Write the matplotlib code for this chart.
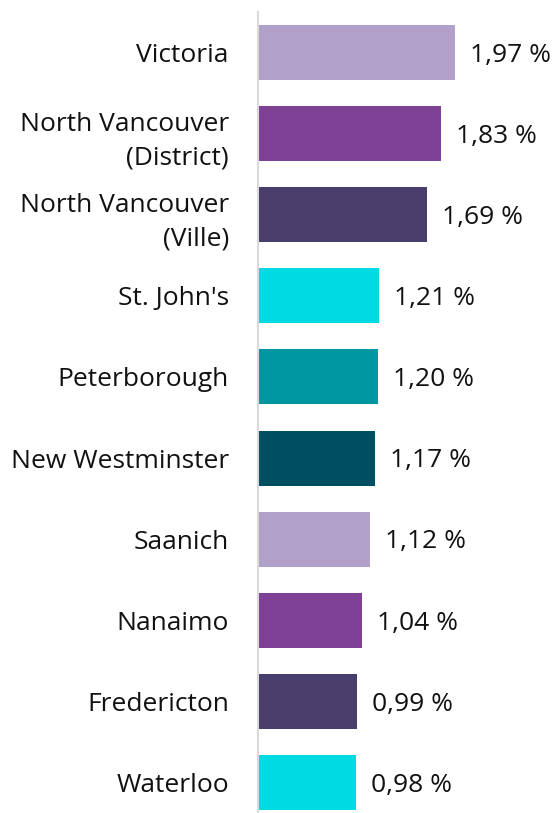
import matplotlib.pyplot as plt

plt.rcParams['font.family'] = ['Open Sans', 'DejaVu Sans']

cities = ["Victoria", "North Vancouver\n(District)", "North Vancouver\n(Ville)",
          "St. John's", "Peterborough", "New Westminster", "Saanich",
          "Nanaimo", "Fredericton", "Waterloo"]
values = [1.97, 1.83, 1.69, 1.21, 1.20, 1.17, 1.12, 1.04, 0.99, 0.98]
colors = ["#b1a0c7", "#7f4196", "#483d6b", "#00dae2", "#0096a2",
          "#004e62", "#b1a0c7", "#7f4196", "#483d6b", "#00dae2"]

W, H = 555, 813
fig = plt.figure(figsize=(W / 100, H / 100), dpi=100)
ax = fig.add_axes([258 / W, 0, 1 - 258 / W, 1 - 12 / H])

pos = list(range(len(cities)))
ax.barh(pos, values, height=0.678, color=colors)
ax.set_ylim(9.377, -0.5)
ax.set_xlim(0, 2.97)

for i, v in enumerate(values):
    ax.annotate(f"{v:.2f} %".replace(".", ","), (v, i), xytext=(11, -2),
                textcoords="offset points", va="center", ha="left",
                fontsize=19, color="#111111")

ax.set_yticks(pos)
ax.set_yticklabels(cities, fontsize=19, color="#111111", linespacing=1.45)
ax.tick_params(axis="y", length=0, pad=21)
ax.set_xticks([])
for s in ["top", "right", "bottom"]:
    ax.spines[s].set_visible(False)
ax.spines["left"].set_color("#d9d9d9")
ax.spines["left"].set_linewidth(1.5)

fig.savefig("out.png", dpi=100)
